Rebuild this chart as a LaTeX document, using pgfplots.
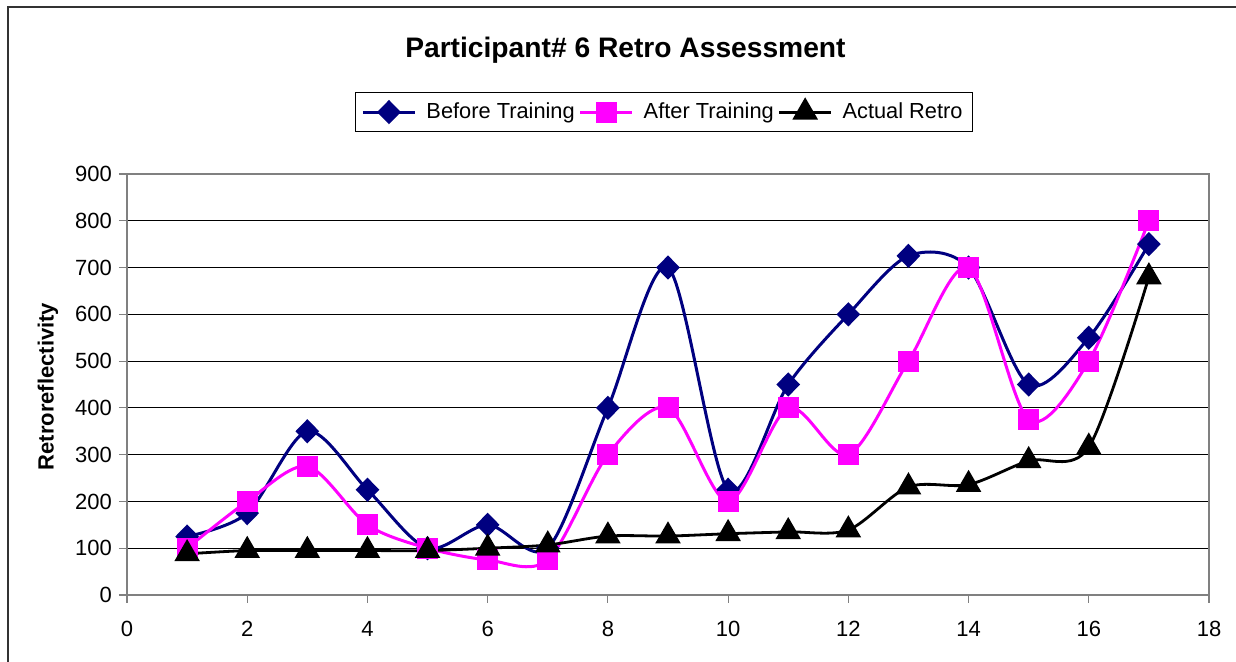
\documentclass[border=0pt]{standalone}
\usepackage{pgfplots}
\pgfplotsset{compat=1.18}
\usepackage{fontspec}
\setmainfont{Liberation Sans}
\definecolor{navyc}{HTML}{000080}
\definecolor{magc}{HTML}{FF00FF}
\definecolor{gridc}{HTML}{333333}
\definecolor{boxc}{HTML}{808080}
\begin{document}
\begin{tikzpicture}
\useasboundingbox (0,0) rectangle (618pt,331pt);
\draw[line width=1pt, color=gridc] (3.75pt,0pt) -- (3.75pt,327.25pt) -- (618pt,327.25pt);
\begin{axis}[
  at={(63.5pt,33.5pt)}, anchor=south west,
  scale only axis, width=541pt, height=210.5pt,
  xmin=0, xmax=18, ymin=0, ymax=900,
  xtick={0,2,...,18}, ytick={0,100,...,900},
  tick align=outside, tick pos=left,
  major tick length=4pt,
  tick style={color=boxc, line width=0.6pt},
  axis line style={color=boxc, line width=0.8pt},
  ymajorgrids, major grid style={color=black, line width=0.5pt},
  /pgf/number format/assume math mode=true,
  ticklabel style={font=\fontsize{11}{13}\selectfont},
  xticklabel style={yshift=-5.5pt},
  ylabel={\bfseries Retroreflectivity},
  ylabel style={font=\fontsize{11}{13}\selectfont, at={(axis description cs:-0.073,0.495)}, anchor=center},
  title={\bfseries Participant\# 6 Retro Assessment},
  title style={font=\fontsize{14.1}{16}\selectfont, at={(axis description cs:0.4607,1.266)}, anchor=center},
  legend columns=3,
  legend style={at={(axis description cs:0.4963,1.147)}, anchor=center,
    font=\fontsize{10.9}{13}\selectfont, draw=black, line width=0.6pt,
    inner xsep=3pt, inner ysep=3pt,
    /tikz/every odd column/.append style={column sep=3pt}},
  legend image code/.code={\draw[mark repeat=2,mark phase=2,#1] plot coordinates {(0pt,0pt) (13pt,0pt) (26pt,0pt)};},
]
\addplot[smooth, color=navyc, line width=1.5pt, mark=diamond*, mark size=5pt, mark options={solid, xscale=1.3, fill=navyc}] coordinates {
(1,125) (2,175) (3,350) (4,225) (5,100) (6,150) (7,100) (8,400) (9,700) (10,225) (11,450) (12,600) (13,725) (14,700) (15,450) (16,550) (17,750)};
\addlegendentry{Before Training}
\addplot[smooth, color=magc, line width=1.5pt, mark=square*, mark size=4.5pt, mark options={solid, fill=magc}] coordinates {
(1,100) (2,200) (3,275) (4,150) (5,100) (6,75) (7,75) (8,300) (9,400) (10,200) (11,400) (12,300) (13,500) (14,700) (15,375) (16,500) (17,800)};
\addlegendentry{After Training}
\addplot[smooth, color=black, line width=1.4pt, mark=triangle*, mark size=6pt, mark options={solid, fill=black}] coordinates {
(1,88) (2,95) (3,95) (4,95) (5,95) (6,100) (7,107) (8,126) (9,126) (10,131) (11,135) (12,139) (13,231) (14,236) (15,287) (16,316) (17,680)};
\addlegendentry{Actual Retro}
\end{axis}
\end{tikzpicture}
\end{document}
